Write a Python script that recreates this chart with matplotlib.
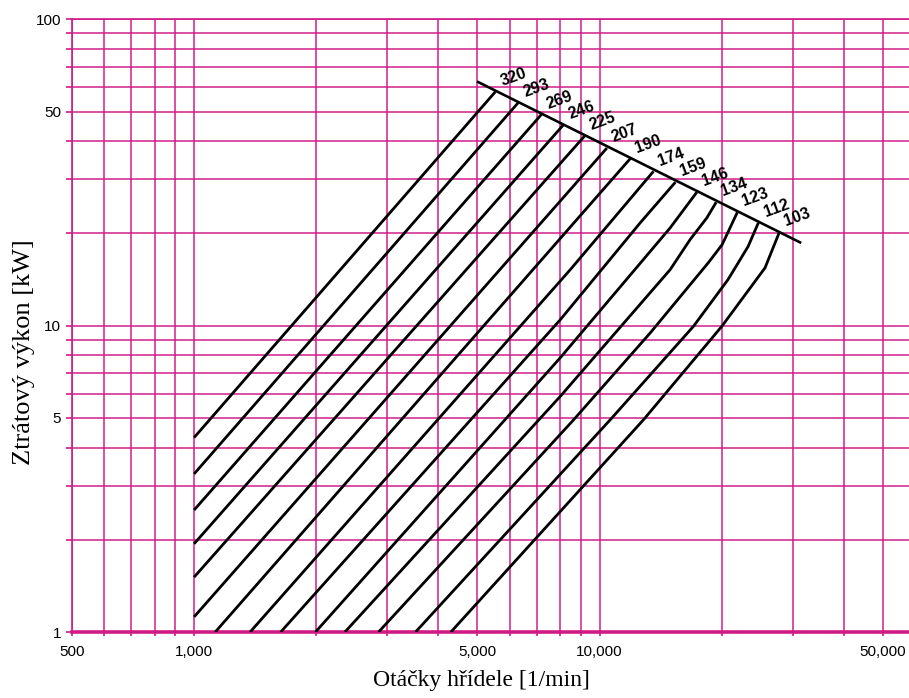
import matplotlib
matplotlib.use('Agg')
import matplotlib.pyplot as plt
from matplotlib.ticker import FixedLocator, FixedFormatter, NullFormatter

# curve labels and points (rpm, kW)
line_labels = [320, 293, 269, 246, 225, 207, 190, 174, 159, 146, 134, 123, 112, 103]
line_rpm = [
    [1000, 5535],
    [1000, 6300],
    [1000, 7190],
    [1000, 8130],
    [1000, 9190],
    [1000, 10430],
    [1128, 11910],
    [1375, 8474, 13590],
    [1636, 8005, 12600, 15390],
    [1993, 8005, 14940, 17380],
    [2356, 8005, 14940, 16730, 18400, 19400],
    [2852, 8636, 13340, 18540, 20070, 21880],
    [3518, 10630, 17050, 20750, 23250, 24650],
    [4300, 12840, 20030, 25600, 27770],
]
line_kw = [
    [4.31, 58.0],
    [3.28, 53.4],
    [2.50, 48.9],
    [1.94, 45.1],
    [1.51, 41.6],
    [1.12, 38.0],
    [1.0, 35.1],
    [1.0, 15.24, 31.9],
    [1.0, 10.46, 21.66, 29.4],
    [1.0, 7.86, 20.86, 27.27],
    [1.0, 5.88, 15.24, 19.10, 22.49, 25.29],
    [1.0, 4.93, 9.47, 16.03, 18.39, 23.46],
    [1.0, 4.93, 9.95, 14.14, 18.12, 21.66],
    [1.0, 4.93, 9.95, 15.44, 20.18],
]
# limit line across the tops of the curves
limit_rpm = [5020, 31230]
limit_kw = [62.4, 18.7]

x_ticks = [500, 1000, 5000, 10000, 50000]
x_tick_labels = ['500', '1,000', '5,000', '10,000', '50,000']
x_minor = [600, 700, 800, 900, 2000, 3000, 4000, 6000, 7000, 8000, 9000,
           20000, 30000, 40000]
y_ticks = [1, 5, 10, 50, 100]
y_tick_labels = ['1', '5', '10', '50', '100']
y_minor = [2, 3, 4, 6, 7, 8, 9, 20, 30, 40, 60, 70, 80, 90]

pink = '#d01a86'
sans = ['Liberation Sans', 'DejaVu Sans']
serif = ['Liberation Serif', 'DejaVu Serif']

fig = plt.figure(figsize=(9.09, 6.98), dpi=100)
ax = fig.add_axes([72 / 909, 66 / 698, (915 - 72) / 909, 612.7 / 698])
ax.set_xscale('log')
ax.set_yscale('log')
ax.set_xlim(500, 60000)
ax.set_ylim(1, 100)

ax.xaxis.set_major_locator(FixedLocator(x_ticks))
ax.xaxis.set_major_formatter(FixedFormatter(x_tick_labels))
ax.xaxis.set_minor_locator(FixedLocator(x_minor))
ax.xaxis.set_minor_formatter(NullFormatter())
ax.yaxis.set_major_locator(FixedLocator(y_ticks))
ax.yaxis.set_major_formatter(FixedFormatter(y_tick_labels))
ax.yaxis.set_minor_locator(FixedLocator(y_minor))
ax.yaxis.set_minor_formatter(NullFormatter())

ax.grid(True, which='both', color=pink, lw=1.2, alpha=0.9, zorder=0)
ax.set_axisbelow(True)
ax.tick_params(which='both', axis='y', color=pink, length=4, width=1.2, pad=4)
ax.tick_params(which='both', axis='x', color=pink, length=3, width=1.2, pad=6)
for lab in ax.get_xticklabels() + ax.get_yticklabels():
    lab.set_family(sans)
    lab.set_fontsize(11)

for side in ['left', 'top']:
    ax.spines[side].set_color(pink)
    ax.spines[side].set_linewidth(1.2)
ax.spines['bottom'].set_color(pink)
ax.spines['bottom'].set_linewidth(2.6)
ax.spines['right'].set_visible(False)

for lab, rpm, kw in zip(line_labels, line_rpm, line_kw):
    ax.plot(rpm, kw, color='black', lw=2.0, solid_capstyle='butt',
            solid_joinstyle='round', zorder=3)
    ax.annotate(str(lab), xy=(rpm[-1], kw[-1]), xytext=(13, 10.5),
                textcoords='offset points', rotation=20, ha='center',
                va='center', fontsize=11.5, fontweight='bold', family=sans,
                zorder=4)
ax.plot(limit_rpm, limit_kw, color='black', lw=1.9, zorder=3)

ax.set_xlabel('Otáčky hřídele [1/min]', family=serif, fontsize=17)
ax.set_ylabel('Ztrátový výkon [kW]', family=serif, fontsize=19)
ax.xaxis.set_label_coords(0.486, -0.062)
ax.yaxis.set_label_coords(-0.044, 0.457)

fig.savefig('out.png', dpi=100)
